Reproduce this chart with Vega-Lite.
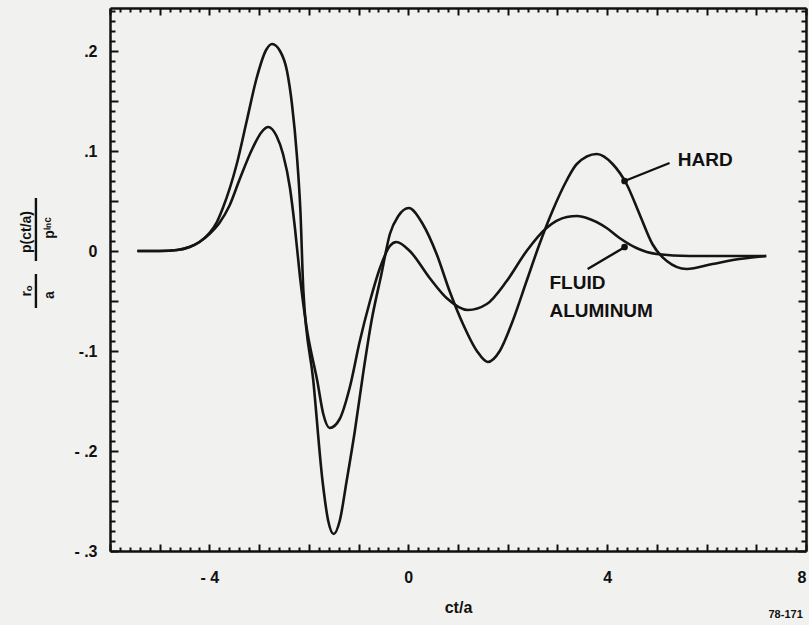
{
  "$schema": "https://vega.github.io/schema/vega-lite/v6.json",
  "width": 696,
  "height": 543,
  "autosize": {"type": "none"},
  "padding": {"left": 110, "top": 8, "right": 3, "bottom": 74},
  "background": "#f1f1ef",
  "config": {
    "view": {"stroke": null},
    "font": "Liberation Sans",
    "axis": {
      "domainColor": "#111111",
      "domainWidth": 2.5,
      "tickColor": "#111111",
      "tickWidth": 2,
      "grid": false,
      "labelFont": "Liberation Sans",
      "labelFontWeight": "bold",
      "labelFontSize": 16,
      "labelColor": "#111111",
      "labelOverlap": false,
      "titleFont": "Liberation Sans",
      "titleFontWeight": "bold",
      "titleFontSize": 16,
      "titleColor": "#111111"
    }
  },
  "datasets": {
    "curves": [
      {"s": "hard", "x": -5.45, "y": 0.0},
      {"s": "hard", "x": -5.0, "y": 0.0},
      {"s": "hard", "x": -4.65, "y": 0.001},
      {"s": "hard", "x": -4.4, "y": 0.004},
      {"s": "hard", "x": -4.2, "y": 0.009},
      {"s": "hard", "x": -4.0, "y": 0.018},
      {"s": "hard", "x": -3.85, "y": 0.029},
      {"s": "hard", "x": -3.73, "y": 0.043},
      {"s": "hard", "x": -3.45, "y": 0.087},
      {"s": "hard", "x": -3.25, "y": 0.13},
      {"s": "hard", "x": -3.05, "y": 0.173},
      {"s": "hard", "x": -2.86, "y": 0.201},
      {"s": "hard", "x": -2.74, "y": 0.207},
      {"s": "hard", "x": -2.58, "y": 0.2},
      {"s": "hard", "x": -2.44, "y": 0.18},
      {"s": "hard", "x": -2.34, "y": 0.147},
      {"s": "hard", "x": -2.24, "y": 0.095},
      {"s": "hard", "x": -2.17, "y": 0.04},
      {"s": "hard", "x": -2.11, "y": -0.04},
      {"s": "hard", "x": -1.91, "y": -0.13},
      {"s": "hard", "x": -1.725, "y": -0.23},
      {"s": "hard", "x": -1.61, "y": -0.27},
      {"s": "hard", "x": -1.5, "y": -0.283},
      {"s": "hard", "x": -1.38, "y": -0.27},
      {"s": "hard", "x": -1.24, "y": -0.23},
      {"s": "hard", "x": -1.075, "y": -0.18},
      {"s": "hard", "x": -0.91, "y": -0.123},
      {"s": "hard", "x": -0.74, "y": -0.07},
      {"s": "hard", "x": -0.54, "y": -0.023},
      {"s": "hard", "x": -0.37, "y": 0.017},
      {"s": "hard", "x": -0.2, "y": 0.035},
      {"s": "hard", "x": 0.01, "y": 0.043},
      {"s": "hard", "x": 0.29, "y": 0.027},
      {"s": "hard", "x": 0.57, "y": -0.003},
      {"s": "hard", "x": 0.83, "y": -0.04},
      {"s": "hard", "x": 1.1, "y": -0.073},
      {"s": "hard", "x": 1.38, "y": -0.1},
      {"s": "hard", "x": 1.6, "y": -0.111},
      {"s": "hard", "x": 1.84, "y": -0.1},
      {"s": "hard", "x": 2.1, "y": -0.07},
      {"s": "hard", "x": 2.38, "y": -0.03},
      {"s": "hard", "x": 2.64, "y": 0.007},
      {"s": "hard", "x": 2.9, "y": 0.04},
      {"s": "hard", "x": 3.18, "y": 0.07},
      {"s": "hard", "x": 3.39, "y": 0.087},
      {"s": "hard", "x": 3.79, "y": 0.097},
      {"s": "hard", "x": 4.11, "y": 0.087},
      {"s": "hard", "x": 4.39, "y": 0.067},
      {"s": "hard", "x": 4.65, "y": 0.037},
      {"s": "hard", "x": 4.91, "y": 0.007},
      {"s": "hard", "x": 5.2, "y": -0.01},
      {"s": "hard", "x": 5.6, "y": -0.018},
      {"s": "hard", "x": 6.12, "y": -0.013},
      {"s": "hard", "x": 6.66, "y": -0.008},
      {"s": "hard", "x": 7.2, "y": -0.005},
      {"s": "fluid", "x": -5.45, "y": 0.0},
      {"s": "fluid", "x": -5.0, "y": 0.0},
      {"s": "fluid", "x": -4.65, "y": 0.001},
      {"s": "fluid", "x": -4.4, "y": 0.004},
      {"s": "fluid", "x": -4.2, "y": 0.009},
      {"s": "fluid", "x": -4.0, "y": 0.017},
      {"s": "fluid", "x": -3.8, "y": 0.028},
      {"s": "fluid", "x": -3.6, "y": 0.045},
      {"s": "fluid", "x": -3.39, "y": 0.072},
      {"s": "fluid", "x": -3.13, "y": 0.103},
      {"s": "fluid", "x": -2.95, "y": 0.119},
      {"s": "fluid", "x": -2.82, "y": 0.124},
      {"s": "fluid", "x": -2.65, "y": 0.115},
      {"s": "fluid", "x": -2.52, "y": 0.097},
      {"s": "fluid", "x": -2.38, "y": 0.063},
      {"s": "fluid", "x": -2.28, "y": 0.023},
      {"s": "fluid", "x": -2.18, "y": -0.025},
      {"s": "fluid", "x": -2.05, "y": -0.075},
      {"s": "fluid", "x": -1.83, "y": -0.13},
      {"s": "fluid", "x": -1.71, "y": -0.163},
      {"s": "fluid", "x": -1.58, "y": -0.177},
      {"s": "fluid", "x": -1.38, "y": -0.168},
      {"s": "fluid", "x": -1.18, "y": -0.137},
      {"s": "fluid", "x": -0.975, "y": -0.09},
      {"s": "fluid", "x": -0.77, "y": -0.05},
      {"s": "fluid", "x": -0.57, "y": -0.017},
      {"s": "fluid", "x": -0.37, "y": 0.005},
      {"s": "fluid", "x": -0.24, "y": 0.009},
      {"s": "fluid", "x": 0.03, "y": 0.0},
      {"s": "fluid", "x": 0.43, "y": -0.027},
      {"s": "fluid", "x": 0.77, "y": -0.047},
      {"s": "fluid", "x": 1.2, "y": -0.059},
      {"s": "fluid", "x": 1.58, "y": -0.053},
      {"s": "fluid", "x": 1.98, "y": -0.03},
      {"s": "fluid", "x": 2.38, "y": 0.0},
      {"s": "fluid", "x": 2.78, "y": 0.023},
      {"s": "fluid", "x": 3.19, "y": 0.034},
      {"s": "fluid", "x": 3.4, "y": 0.035},
      {"s": "fluid", "x": 3.59, "y": 0.033},
      {"s": "fluid", "x": 3.99, "y": 0.023},
      {"s": "fluid", "x": 4.25, "y": 0.013},
      {"s": "fluid", "x": 4.59, "y": 0.003},
      {"s": "fluid", "x": 4.99, "y": -0.003},
      {"s": "fluid", "x": 5.66, "y": -0.005},
      {"s": "fluid", "x": 6.66, "y": -0.005},
      {"s": "fluid", "x": 7.2, "y": -0.005}
    ],
    "labels": [
      {"x": 5.42, "y": 0.091, "t": "HARD"},
      {"x": 2.84, "y": -0.032, "t": "FLUID"},
      {"x": 2.84, "y": -0.06, "t": "ALUMINUM"}
    ],
    "strokes": [
      {"x": 5.256, "y": 0.088, "x2": 4.352, "y2": 0.07},
      {"x": 3.608, "y": -0.018, "x2": 4.392, "y2": 0.005},
      {"x": -7.49, "y": -0.023, "x2": -7.49, "y2": -0.057},
      {"x": -7.49, "y": 0.053, "x2": -7.49, "y2": -0.01}
    ],
    "blobs": [
      {"x": 4.35, "y": 0.07},
      {"x": 4.35, "y": 0.004}
    ],
    "ytitle": [
      {"x": -7.67, "y": -0.04, "t": "r\u2092"},
      {"x": -7.21, "y": -0.044, "t": "a"},
      {"x": -7.67, "y": 0.019, "t": "p(ct/a)"},
      {"x": -7.21, "y": 0.023, "t": "p\u2071\u207f\u1d9c"}
    ],
    "note": [
      {"x": 7.59, "y": -0.364, "t": "78-171"}
    ]
  },
  "resolve": {"axis": {"x": "independent", "y": "independent"}},
  "layer": [
    {
      "data": {"name": "curves"},
      "mark": {"type": "line", "interpolate": "monotone", "stroke": "#151515", "strokeWidth": 2.6},
      "encoding": {
        "x": {
          "field": "x", "type": "quantitative",
          "scale": {"domain": [-6, 8], "nice": false, "zero": false},
          "axis": {
            "orient": "bottom",
            "title": "ct/a",
            "titlePadding": 14,
            "values": [-6,-5,-4,-3,-2,-1,0,1,2,3,4,5,6,7,8],
            "tickCount": 200,
            "tickSize": -7,
            "labelPadding": 25,
            "labelFlush": true,
            "labelExpr": "datum.value == -4 ? '- 4' : datum.value == 0 ? '0' : datum.value == 4 ? '4' : datum.value == 8 ? '8' : ''"
          }
        },
        "y": {
          "field": "y", "type": "quantitative",
          "scale": {"domain": [-0.3, 0.243], "nice": false, "zero": false},
          "axis": {
            "orient": "left",
            "title": null,
            "values": [-0.3,-0.25,-0.2,-0.15,-0.1,-0.05,0,0.05,0.1,0.15,0.2],
            "tickCount": 200,
            "tickSize": -8,
            "labelPadding": 21,
            "labelFlush": false,
            "labelExpr": "abs(datum.value - 0.2) < 1e-6 ? '.2' : abs(datum.value - 0.1) < 1e-6 ? '.1' : abs(datum.value) < 1e-6 ? '0' : abs(datum.value + 0.1) < 1e-6 ? '-.1' : abs(datum.value + 0.2) < 1e-6 ? '- .2' : abs(datum.value + 0.3) < 1e-6 ? '- .3' : ''"
          }
        },
        "detail": {"field": "s"}
      }
    },
    {
      "data": {"name": "labels"},
      "mark": {"type": "text", "align": "left", "baseline": "middle", "fontSize": 19, "fontWeight": "bold", "font": "Liberation Sans", "fill": "#111111"},
      "encoding": {
        "x": {
          "field": "x", "type": "quantitative",
          "scale": {"domain": [-6, 8], "nice": false, "zero": false},
          "axis": {
            "orient": "top",
            "title": null,
            "labels": false,
            "values": [-6,-5,-4,-3,-2,-1,0,1,2,3,4,5,6,7,8],
            "tickCount": 200,
            "tickSize": -7
          }
        },
        "y": {
          "field": "y", "type": "quantitative",
          "scale": {"domain": [-0.3, 0.243], "nice": false, "zero": false},
          "axis": {
            "orient": "right",
            "title": null,
            "labels": false,
            "values": [-0.3,-0.25,-0.2,-0.15,-0.1,-0.05,0,0.05,0.1,0.15,0.2],
            "tickCount": 200,
            "tickSize": -8
          }
        },
        "text": {"field": "t"}
      }
    },
    {
      "data": {"name": "strokes"},
      "mark": {"type": "rule", "stroke": "#111111", "strokeWidth": 2.4},
      "encoding": {
        "x": {
          "field": "x", "type": "quantitative",
          "axis": {
            "orient": "bottom", "title": null, "labels": false, "domain": false, "tickSize": -4, "tickCount": 200,
            "values": [-5.8,-5.6,-5.4,-5.2,-4.8,-4.6,-4.4,-4.2,-3.8,-3.6,-3.4,-3.2,-2.8,-2.6,-2.4,-2.2,-1.8,-1.6,-1.4,-1.2,-0.8,-0.6,-0.4,-0.2,0.2,0.4,0.6,0.8,1.2,1.4,1.6,1.8,2.2,2.4,2.6,2.8,3.2,3.4,3.6,3.8,4.2,4.4,4.6,4.8,5.2,5.4,5.6,5.8,6.2,6.4,6.6,6.8,7.2,7.4,7.6,7.8]
          }
        },
        "y": {
          "field": "y", "type": "quantitative",
          "axis": {
            "orient": "left", "title": null, "labels": false, "domain": false, "tickSize": -5, "tickCount": 200,
            "values": [-0.29,-0.28,-0.27,-0.26,-0.24,-0.23,-0.22,-0.21,-0.19,-0.18,-0.17,-0.16,-0.14,-0.13,-0.12,-0.11,-0.09,-0.08,-0.07,-0.06,-0.04,-0.03,-0.02,-0.01,0.01,0.02,0.03,0.04,0.06,0.07,0.08,0.09,0.11,0.12,0.13,0.14,0.16,0.17,0.18,0.19,0.21,0.22,0.23,0.24]
          }
        },
        "x2": {"field": "x2"},
        "y2": {"field": "y2"}
      }
    },
    {
      "data": {"name": "blobs"},
      "mark": {"type": "point", "shape": "circle", "filled": true, "size": 45, "fill": "#111111", "opacity": 1},
      "encoding": {
        "x": {
          "field": "x", "type": "quantitative",
          "axis": {
            "orient": "top", "title": null, "labels": false, "domain": false, "tickSize": -4, "tickCount": 200,
            "values": [-5.8,-5.6,-5.4,-5.2,-4.8,-4.6,-4.4,-4.2,-3.8,-3.6,-3.4,-3.2,-2.8,-2.6,-2.4,-2.2,-1.8,-1.6,-1.4,-1.2,-0.8,-0.6,-0.4,-0.2,0.2,0.4,0.6,0.8,1.2,1.4,1.6,1.8,2.2,2.4,2.6,2.8,3.2,3.4,3.6,3.8,4.2,4.4,4.6,4.8,5.2,5.4,5.6,5.8,6.2,6.4,6.6,6.8,7.2,7.4,7.6,7.8]
          }
        },
        "y": {
          "field": "y", "type": "quantitative",
          "axis": {
            "orient": "right", "title": null, "labels": false, "domain": false, "tickSize": -5, "tickCount": 200,
            "values": [-0.29,-0.28,-0.27,-0.26,-0.24,-0.23,-0.22,-0.21,-0.19,-0.18,-0.17,-0.16,-0.14,-0.13,-0.12,-0.11,-0.09,-0.08,-0.07,-0.06,-0.04,-0.03,-0.02,-0.01,0.01,0.02,0.03,0.04,0.06,0.07,0.08,0.09,0.11,0.12,0.13,0.14,0.16,0.17,0.18,0.19,0.21,0.22,0.23,0.24]
          }
        }
      }
    },
    {
      "data": {"name": "ytitle"},
      "mark": {"type": "text", "angle": 270, "align": "center", "baseline": "middle", "fontSize": 14, "fontWeight": "bold", "font": "Liberation Sans", "fill": "#111111"},
      "encoding": {
        "x": {"field": "x", "type": "quantitative", "axis": null},
        "y": {"field": "y", "type": "quantitative", "axis": null},
        "text": {"field": "t"}
      }
    },
    {
      "data": {"name": "note"},
      "mark": {"type": "text", "align": "center", "baseline": "middle", "fontSize": 11, "fontWeight": "bold", "font": "Liberation Sans", "fill": "#111111"},
      "encoding": {
        "x": {"field": "x", "type": "quantitative", "axis": null},
        "y": {"field": "y", "type": "quantitative", "axis": null},
        "text": {"field": "t"}
      }
    }
  ]
}
